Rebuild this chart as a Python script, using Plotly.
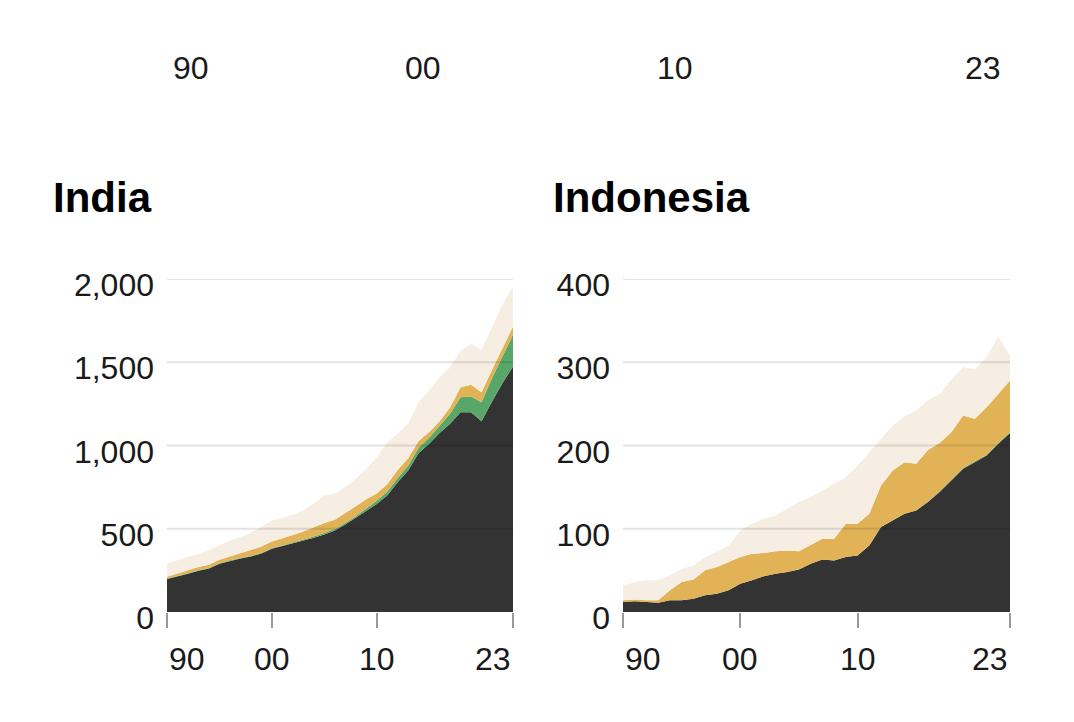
import plotly.graph_objects as go

years = list(range(1990, 2024))

# India, layer values (bottom to top)
india_dark = [198, 212, 230, 248, 262, 290, 308, 322, 334, 352, 380, 396, 412, 428, 446, 466, 490,
              525, 565, 610, 648, 700, 780, 850, 955, 1010, 1075, 1130, 1200, 1200, 1145, 1265, 1375, 1475]
india_green = [2, 2, 2, 2, 2, 2, 3, 3, 3, 3, 4, 4, 5, 6, 7, 8, 9,
               10, 10, 12, 20, 22, 25, 28, 32, 36, 40, 60, 90, 95, 115, 140, 160, 190]
india_gold = [12, 15, 18, 20, 20, 22, 22, 28, 36, 38, 40, 42, 45, 50, 58, 60, 55,
              58, 60, 55, 44, 45, 48, 45, 40, 35, 30, 40, 60, 70, 60, 50, 50, 50]
india_other = [80, 81, 80, 80, 88, 86, 97, 97, 102, 117, 126, 123, 123, 126, 139, 166, 156,
               157, 165, 183, 218, 253, 217, 207, 233, 249, 265, 240, 220, 245, 255, 255, 265, 240]

# Indonesia, layer values (bottom to top)
indo_dark = [12, 13, 12, 11, 14, 14, 16, 20, 22, 26, 34, 38, 43, 46, 48, 51, 58,
             63, 62, 66, 68, 80, 102, 110, 118, 122, 132, 144, 158, 172, 180, 188, 202, 215]
indo_green = [0, 0, 0, 0, 0, 0, 0, 0, 0, 0, 0, 0, 0, 0, 0, 0, 0,
              0, 0, 0, 0, 0, 0, 0, 0, 0, 0.5, 1, 1, 1, 1, 1, 1, 1]
indo_gold = [2, 2, 2, 3, 12, 22, 23, 30, 32, 34, 32, 32, 28, 27, 26, 22, 22,
             25, 26, 40, 38, 38, 50, 60, 62, 56, 62, 58, 57, 63, 51, 57, 59, 62]
indo_other = [18, 21, 24, 24, 18, 16, 17, 16, 18, 20, 32, 36, 41, 43, 50, 59, 58,
              58, 66, 56, 70, 74, 56, 54, 55, 64, 60, 59, 63, 58, 60, 60, 69, 30]

india_yticks = [0, 500, 1000, 1500, 2000]
indo_yticks = [0, 100, 200, 300, 400]
x_tickvals = [1990, 2000, 2010, 2023]
x_ticktext = ["90", "00", "10", "23"]

colors = ["#333333", "#58a668", "#e1b356", "#f7eee3"]
FONT = "Liberation Sans, Arial, sans-serif"

W, H = 1074, 722

fig = go.Figure()

panels = [
    ("India", "x", "y", [india_dark, india_green, india_gold, india_other], india_yticks, 43),
    ("Indonesia", "x2", "y2", [indo_dark, indo_green, indo_gold, indo_other], indo_yticks, 543),
]

for name, xa, ya, layers, yticks, title_x in panels:
    for vals, col in zip(layers, colors):
        fig.add_trace(go.Scatter(
            x=years, y=vals, xaxis=xa, yaxis=ya, stackgroup=name,
            mode="lines", line=dict(width=0, color=col), fillcolor=col,
            hoverinfo="skip", showlegend=False))
    # gridlines over the areas
    for v in yticks[1:]:
        fig.add_shape(type="line", xref=xa + " domain", yref=ya, x0=0, x1=1, y0=v, y1=v,
                      line=dict(color="rgba(0,0,0,0.11)", width=2), layer="above")
    # title
    fig.add_annotation(text="<b>" + name + "</b>", xref="paper", yref="paper",
                       x=title_x / W, y=1 - 190 / H, xanchor="left", yanchor="middle",
                       showarrow=False, font=dict(family=FONT, size=42, color="#000"))
    # x tick labels
    for i, (tv, tt) in enumerate(zip(x_tickvals, x_ticktext)):
        anchor = "left" if i == 0 else ("right" if i == len(x_tickvals) - 1 else "center")
        fig.add_annotation(text=tt, xref=xa, yref="paper", x=tv, y=1 - 651 / H,
                           xanchor=anchor, yanchor="middle", showarrow=False,
                           font=dict(family=FONT, size=32, color="#1a1a1a"))

# labels of the axis above (cut off chart)
for i, (tv, tt) in enumerate(zip(x_tickvals, x_ticktext)):
    anchor = "left" if i == 0 else ("right" if i == len(x_tickvals) - 1 else "center")
    fig.add_annotation(text=tt, xref="x3", yref="paper", x=tv, y=1 - 60 / H,
                       xanchor=anchor, yanchor="middle", showarrow=False,
                       font=dict(family=FONT, size=32, color="#1a1a1a"))

ybot, ytop = 1 - 604 / H, 1 - 271 / H

xcommon = dict(range=[1990, 2023], showgrid=False, zeroline=False, showline=False,
               tickvals=x_tickvals, showticklabels=False, ticks="outside",
               ticklen=15, tickwidth=2, tickcolor="#9a9a9a", fixedrange=True)
ycommon = dict(showgrid=False, zeroline=False, showline=False, ticks="",
               tickformat=",", ticklabelstandoff=12, ticklabelshift=6,
               tickfont=dict(family=FONT, size=32, color="#1a1a1a"), fixedrange=True)

fig.update_layout(
    template="none",
    autosize=False,
    width=W, height=H,
    margin=dict(l=0, r=0, t=0, b=0, pad=0),
    paper_bgcolor="white", plot_bgcolor="white",
    xaxis=dict(domain=[159 / W, 505 / W], anchor="y", **xcommon),
    yaxis=dict(domain=[ybot, ytop], anchor="x", range=[0, 2000], tickvals=india_yticks, **ycommon),
    xaxis2=dict(domain=[615 / W, 1002 / W], anchor="y2", **xcommon),
    yaxis2=dict(domain=[ybot, ytop], anchor="x2", range=[0, 400], tickvals=indo_yticks, **ycommon),
    xaxis3=dict(domain=[163 / W, 995 / W], anchor="y3", range=[1990, 2023], visible=False),
    yaxis3=dict(domain=[0.88, 0.93], anchor="x3", range=[0, 1], visible=False),
)

fig.write_html("out.html")
